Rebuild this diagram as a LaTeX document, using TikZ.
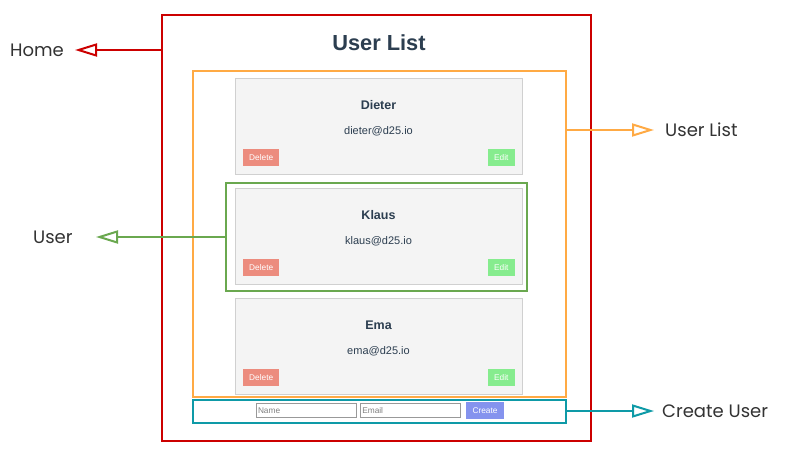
\documentclass[tikz,border=0pt]{standalone}
\usepackage{fontspec}
\setmainfont{Liberation Sans}
\newfontfamily\labelfont{Poppins}
\usetikzlibrary{arrows.meta}
\definecolor{redc}{HTML}{CC0000}
\definecolor{orangec}{HTML}{FFAA44}
\definecolor{greenc}{HTML}{6AA84F}
\definecolor{tealc}{HTML}{0E9AA7}
\definecolor{titlec}{HTML}{2C3E50}
\definecolor{labelc}{HTML}{333333}
\definecolor{cardbg}{HTML}{F4F4F4}
\definecolor{cardborder}{HTML}{D0D0D0}
\definecolor{delc}{HTML}{EC8C7E}
\definecolor{editc}{HTML}{86EC8E}
\definecolor{createc}{HTML}{8593EE}
\definecolor{inputborder}{HTML}{999999}
\begin{document}
\begin{tikzpicture}[x=1pt,y=-1pt,
  frame/.style={draw, line width=2pt, inner sep=0, outer sep=0},
  card/.style={draw=cardborder, fill=cardbg, line width=1pt, minimum width=287pt, minimum height=96pt, inner sep=0, outer sep=0},
  btn/.style={text=white, font=\fontsize{8.3}{10}\selectfont, inner sep=0, minimum height=17pt},
  delbtn/.style={btn, fill=delc, minimum width=36pt, anchor=south west},
  editbtn/.style={btn, fill=editc, minimum width=27pt, anchor=south east},
  uname/.style={font=\bfseries\fontsize{12.5}{15}\selectfont, text=titlec, inner sep=0},
  umail/.style={font=\fontsize{11}{13}\selectfont, text=titlec, inner sep=0},
  lbl/.style={font=\labelfont\fontsize{18}{21}\selectfont, text=labelc, anchor=west, inner sep=0},
  conn/.style={line width=2pt, -{Triangle[open, length=22pt, width=13pt, fill=white]}},
  field/.style={draw=inputborder, fill=white, line width=1pt, minimum height=14pt, inner xsep=2pt, inner ysep=0, text width=96pt, align=left, text=gray, font=\fontsize{8.3}{10}\selectfont},
]
\useasboundingbox[fill=white] (0,0) rectangle (787,455);

% frames
\node[frame, draw=redc, minimum width=429pt, minimum height=426pt] (home) at (376.5,228) {};
\node[frame, draw=orangec, minimum width=373pt, minimum height=326pt] (list) at (379.5,234) {};

\node[font=\bfseries\fontsize{21.8}{24}\selectfont, text=titlec, inner sep=0] (title) at (379,43) {User List};

% cards
\node[card] (c1) at (378.5,126) {};
\node[card] (c2) at (378.5,236) {};
\node[card] (c3) at (378.5,346) {};
\node[frame, draw=greenc, minimum width=301pt, minimum height=108pt] (user) at (376.5,237) {};

\foreach \c/\n/\m in {c1/Dieter/dieter@d25.io, c2/Klaus/klaus@d25.io, c3/Ema/ema@d25.io}{
  \node[uname] (\c name) at ([yshift=-27.5pt]\c.north) {\n};
  \node[umail] (\c mail) at ([yshift=-53.5pt]\c.north) {\m};
  \node[delbtn] (\c del) at ([xshift=8pt,yshift=8pt]\c.south west) {Delete};
  \node[editbtn] (\c edit) at ([xshift=-7pt,yshift=8pt]\c.south east) {Edit};
}

% create form
\node[frame, draw=tealc, minimum width=373pt, minimum height=23pt] (create) at (379.5,411.5) {};
\node[field] (fname) at (306,410.3) {Name};
\node[field] (femail) at (410.3,410.3) {Email};
\node[btn, fill=createc, minimum width=38pt] (fbtn) at (485,410.5) {Create};

% labels
\node[lbl] (homelbl) at (10,50) {Home};
\node[lbl] (userlbl) at (33,237) {User};
\node[lbl] (listlbl) at (665,130) {User List};
\node[lbl] (createlbl) at (662,411) {Create User};

\coordinate (hometip) at (75,50);
\coordinate (usertip) at (96,237);
\coordinate (listtip) at (654,130);
\coordinate (createtip) at (654,411);

\draw[conn, redc] (home.west |- hometip) -- (hometip);
\draw[conn, greenc] (user.west |- usertip) -- (usertip);
\draw[conn, orangec] (list.east |- listtip) -- (listtip);
\draw[conn, tealc] (create.east |- createtip) -- (createtip);
\end{tikzpicture}
\end{document}
